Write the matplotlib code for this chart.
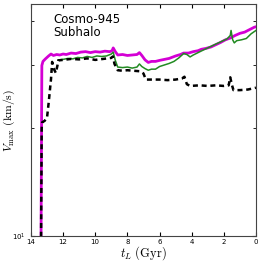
import matplotlib
matplotlib.use('Agg')
import matplotlib.pyplot as plt
from matplotlib.ticker import LogLocator, NullFormatter, FixedLocator

plt.rcParams['mathtext.fontset'] = 'cm'

# Lookback time (Gyr) and Vmax (km/s) for each track
t_mag = [13.38, 13.32, 13.25, 13.1, 12.9, 12.75, 12.6, 12.4, 12.2, 12.0, 11.8, 11.5, 11.2,
         10.9, 10.6, 10.3, 10.0, 9.7, 9.4, 9.1, 8.95, 8.88, 8.75, 8.6, 8.3, 8.0, 7.7, 7.4,
         7.25, 7.1, 6.9, 6.7, 6.5, 6.25, 6.0, 5.7, 5.4, 5.0, 4.7, 4.5, 4.2, 3.9, 3.6, 3.4,
         3.1, 2.8, 2.5, 2.2, 1.9, 1.6, 1.3, 1.0, 0.7, 0.5, 0.3, 0.1, 0.0]
v_mag = [8.0, 30.0, 30.8, 31.3, 31.9, 32.3, 32.0, 32.2, 32.1, 32.3, 32.2, 32.5, 32.4,
         32.7, 32.8, 32.6, 32.8, 32.7, 32.9, 32.8, 33.0, 33.6, 32.8, 32.1, 32.2, 32.0, 32.1, 32.2,
         32.6, 32.0, 31.1, 30.6, 30.8, 30.8, 31.0, 31.2, 31.4, 31.9, 32.2, 32.5, 32.5, 32.8, 33.0, 33.3,
         33.5, 33.8, 34.3, 34.8, 35.4, 35.8, 36.4, 36.9, 37.2, 37.6, 38.0, 38.4, 38.5]

t_grn = [12.3, 12.0, 11.7, 11.4, 11.1, 10.8, 10.5, 10.2, 9.9, 9.6, 9.3, 9.0, 8.88, 8.75,
         8.6, 8.3, 8.0, 7.7, 7.4, 7.25, 7.1, 6.9, 6.7, 6.5, 6.25, 6.0, 5.7, 5.4, 5.1, 4.8,
         4.5, 4.3, 4.1, 3.9, 3.6, 3.3, 3.0, 2.7, 2.4, 2.1, 1.8, 1.6, 1.55, 1.45, 1.35, 1.2,
         0.9, 0.6, 0.3, 0.0]
v_grn = [31.1, 31.2, 31.4, 31.3, 31.6, 31.5, 31.8, 31.6, 31.9, 31.8, 31.9, 32.3, 32.7, 31.0,
         29.7, 29.6, 29.7, 29.5, 29.7, 30.3, 29.8, 29.4, 29.1, 29.3, 29.3, 29.8, 30.1, 30.4, 30.8, 31.5,
         32.4, 32.2, 31.7, 32.1, 32.6, 33.1, 33.6, 34.1, 34.6, 35.1, 35.6, 36.4, 37.6, 35.4, 34.7, 35.2,
         35.4, 35.7, 36.8, 37.6]

t_blk = [13.38, 13.33, 13.3, 13.15, 13.0, 12.9, 12.75, 12.68, 12.6, 12.45, 12.35, 12.3, 12.0,
         11.5, 11.0, 10.5, 10.0, 9.5, 9.0, 8.9, 8.8, 8.6, 8.3, 8.0, 7.6, 7.2, 7.0, 6.85, 6.5,
         6.0, 5.5, 5.0, 4.6, 4.45, 4.3, 4.1, 3.5, 3.0, 2.5, 2.0, 1.7, 1.6, 1.5, 1.4, 1.0, 0.5, 0.0]
v_blk = [8.0, 20.0, 20.8, 21.0, 21.4, 23.5, 27.5, 30.7, 29.5, 28.6, 30.0, 31.0, 31.1,
         31.3, 31.2, 31.4, 31.1, 31.3, 31.5, 31.8, 30.3, 29.1, 29.0, 29.1, 29.0, 28.9, 28.5, 27.4, 27.4,
         27.4, 27.3, 27.4, 27.6, 27.9, 26.6, 26.3, 26.4, 26.3, 26.4, 26.3, 26.4, 27.8, 26.5, 25.6, 25.6, 25.7, 26.0]

x_ticks = [14, 12, 10, 8, 6, 4, 2, 0]

fig = plt.figure(figsize=(2.62, 2.62), dpi=100)
ax = fig.add_axes([0.118, 0.099, 0.859, 0.886])

ax.plot(t_mag, v_mag, color='#d400d4', lw=2.0)
ax.plot(t_grn, v_grn, color='#228b22', lw=1.1)
ax.plot(t_blk, v_blk, color='black', lw=1.8, ls=(0, (2, 1.5)))

ax.set_yscale('log')
ax.set_xlim(14, 0)
ax.set_ylim(10, 44.6)

ax.xaxis.set_major_locator(FixedLocator(x_ticks))
ax.yaxis.set_minor_locator(LogLocator(subs=range(2, 10)))
ax.yaxis.set_minor_formatter(NullFormatter())
ax.tick_params(which='both', direction='in', top=True, right=True, labelsize=5)
ax.tick_params(axis='x', pad=2)
ax.tick_params(axis='y', pad=3.5)
ax.tick_params(which='major', length=3)
ax.tick_params(which='minor', length=2)
for s in ax.spines.values():
    s.set_color('#444444')

ax.set_xlabel(r'$t_L\ ({\rm Gyr})$', fontsize=9, labelpad=-0.5)
# y label placed by hand so it stays inside the small canvas
fig.text(0.034, 0.54, r'$V_{\rm max}\ ({\rm km/s})$', fontsize=8.5,
         rotation=90, ha='center', va='center')

ax.text(0.1, 0.96, 'Cosmo-945\nSubhalo', transform=ax.transAxes, fontsize=8.5,
        va='top', ha='left', linespacing=1.0)

fig.savefig('out.png', dpi=100)
